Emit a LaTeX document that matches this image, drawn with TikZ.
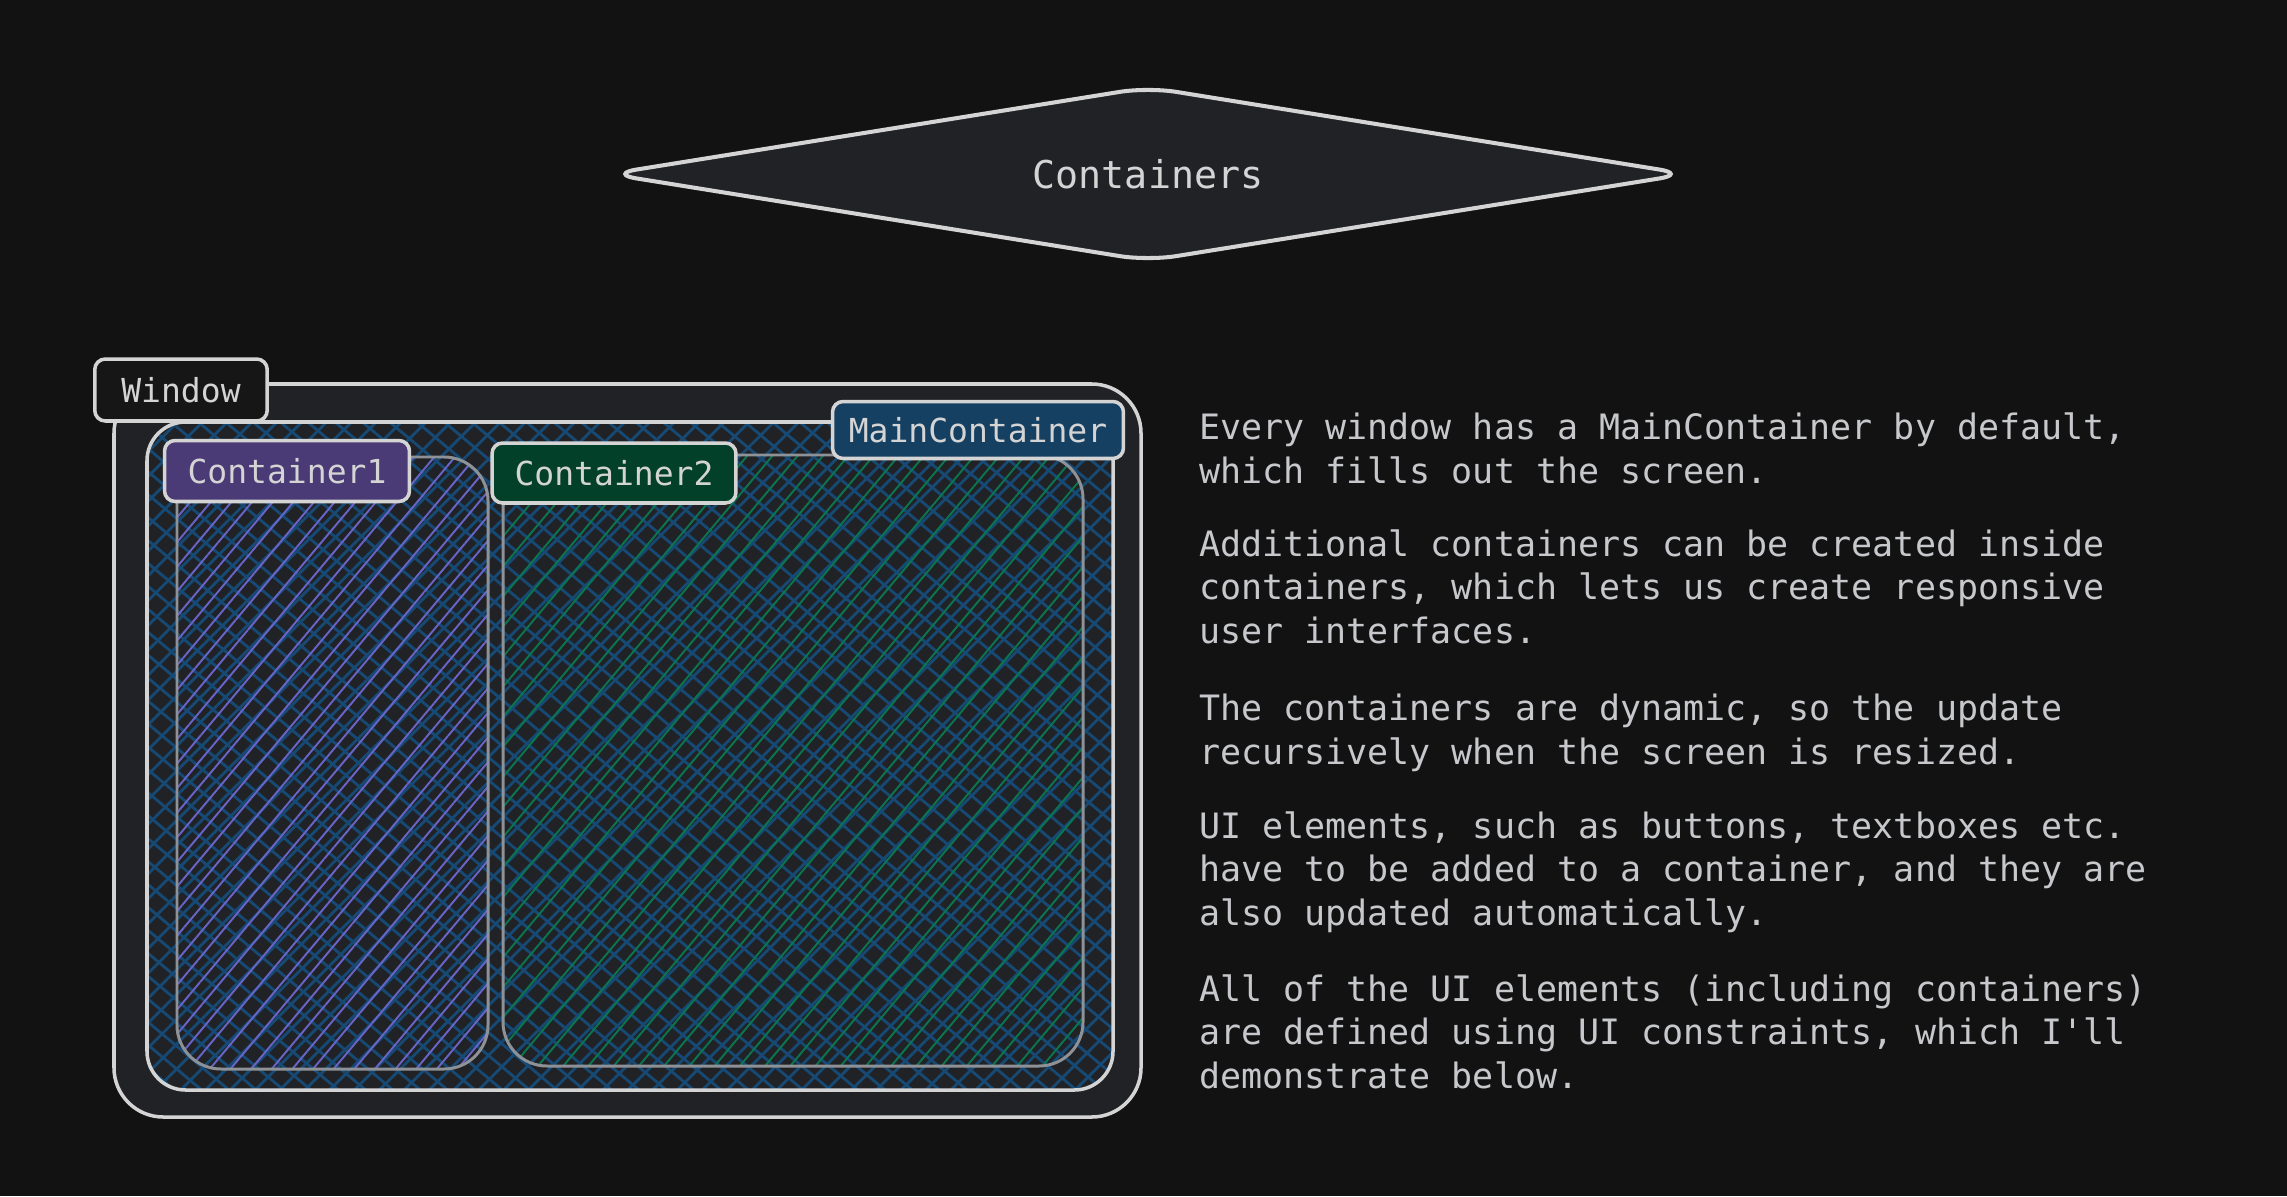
\documentclass[tikz,border=0pt]{standalone}
\usepackage{fontspec}
\setmonofont{DejaVu Sans Mono}
\usetikzlibrary{shapes.geometric,patterns.meta}

\definecolor{bg}{HTML}{121212}
\definecolor{panel}{HTML}{212226}
\definecolor{edge}{HTML}{D4D4D4}
\definecolor{dimedge}{HTML}{8E9196}
\definecolor{txt}{HTML}{C6C8CB}
\definecolor{hblue}{HTML}{164A74}
\definecolor{hpurple}{HTML}{6964C8}
\definecolor{hgreen}{HTML}{0B7550}
\definecolor{lblwin}{HTML}{161616}
\definecolor{lblpurple}{HTML}{4A3A75}
\definecolor{lblgreen}{HTML}{034029}
\definecolor{lblblue}{HTML}{164062}

\tikzstyle{title}=[shape=diamond,
                   aspect=6,
                   draw=edge,
                   fill=panel,
                   line width=2.3pt,
                   inner sep=0pt,
                   minimum width=21.6cm,
                   minimum height=3.5cm,
                   rounded corners=16pt,
                   text=edge,
                   font=\ttfamily\fontsize{21.8}{26}\selectfont]
\tikzstyle{frame}=[draw=edge, line width=2pt]
\tikzstyle{box}=[draw=dimedge, line width=1.7pt, rounded corners=25pt]
\tikzstyle{tag}=[shape=rectangle,
                 draw=edge,
                 line width=2pt,
                 rounded corners=6pt,
                 inner sep=0pt,
                 text=edge,
                 font=\ttfamily\fontsize{18.8}{22}\selectfont]
\tikzstyle{para}=[anchor=base west,
                  align=left,
                  inner sep=0pt,
                  text=txt,
                  font=\ttfamily\fontsize{19.9}{24.5}\selectfont]

\begin{document}
\begin{tikzpicture}[x=0.02cm,y=-0.02cm]

\useasboundingbox[fill=bg] (0,0) rectangle (2287,1196);

% heading
\node[title] (head) at (1148,174) {Containers};

% corners of the rectangles
\coordinate (win-nw)  at (114,384);
\coordinate (win-se)  at (1141,1117);
\coordinate (main-nw) at (147,422);
\coordinate (main-se) at (1113,1090);
\coordinate (c1-nw)   at (177,457);
\coordinate (c1-se)   at (488,1069);
\coordinate (c2-nw)   at (503,455);
\coordinate (c2-se)   at (1083,1066);

% window
\draw[frame, fill=panel, rounded corners=28pt] (win-nw) rectangle (win-se);

% main container (cross hatched)
\fill[panel, rounded corners=22pt] (main-nw) rectangle (main-se);
\fill[pattern={Lines[angle=45,distance=10pt,line width=1.6pt]}, pattern color=hblue,
      rounded corners=22pt] (main-nw) rectangle (main-se);
\fill[pattern={Lines[angle=-40,distance=10pt,line width=1.6pt]}, pattern color=hblue,
      rounded corners=22pt] (main-nw) rectangle (main-se);
\draw[frame, rounded corners=22pt] (main-nw) rectangle (main-se);

% inner containers
\fill[pattern={Lines[angle=50,distance=9pt,line width=1.1pt]}, pattern color=hpurple,
      rounded corners=25pt] (c1-nw) rectangle (c1-se);
\draw[box] (c1-nw) rectangle (c1-se);
\fill[pattern={Lines[angle=50,distance=11pt,line width=1.1pt]}, pattern color=hgreen,
      rounded corners=25pt] (c2-nw) rectangle (c2-se);
\draw[box] (c2-nw) rectangle (c2-se);

% labels
\node[tag, fill=lblwin, minimum width=3.45cm, minimum height=1.24cm] (win) at (181,390) {Window};
\node[tag, fill=lblpurple, minimum width=4.9cm, minimum height=1.22cm] (c1) at (287,471) {Container1};
\node[tag, fill=lblgreen, minimum width=4.88cm, minimum height=1.2cm] (c2) at (614,473) {Container2};
\node[tag, fill=lblblue, minimum width=5.82cm, minimum height=1.14cm] (main) at (978,430) {MainContainer};

% description (placed at the baseline of each last line)
\node[para] (p1) at (1199,483) {Every window has a MainContainer by default,\\which fills out the screen.};
\node[para] (p2) at (1199,643) {Additional containers can be created inside\\containers, which lets us create responsive\\user interfaces.};
\node[para] (p3) at (1199,764) {The containers are dynamic, so the update\\recursively when the screen is resized.};
\node[para] (p4) at (1199,925) {UI elements, such as buttons, textboxes etc.\\have to be added to a container, and they are\\also updated automatically.};
\node[para] (p5) at (1199,1088) {All of the UI elements (including containers)\\are defined using UI constraints, which I'll\\demonstrate below.};

\end{tikzpicture}
\end{document}
